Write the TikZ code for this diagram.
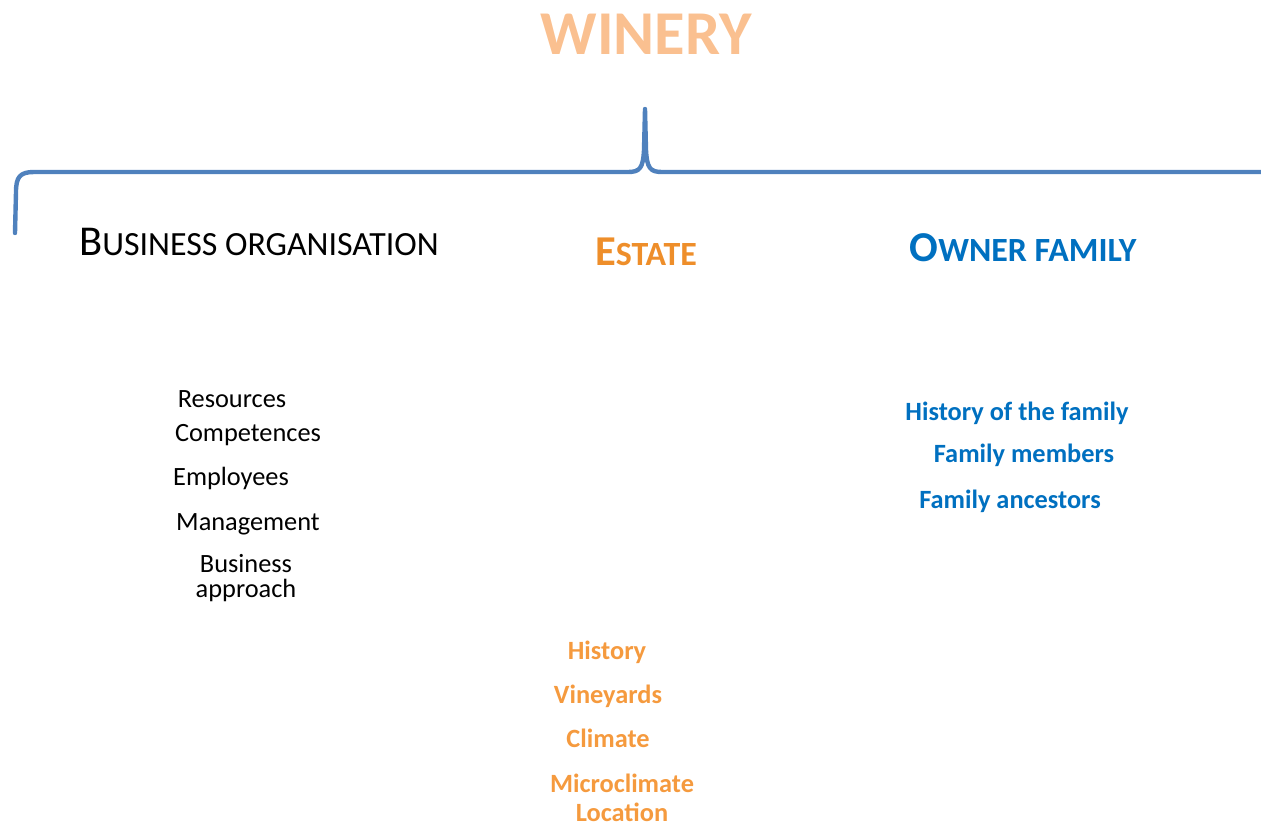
\documentclass[tikz,border=0pt]{standalone}
\usepackage{fontspec}
\setmainfont{Carlito}
\definecolor{winepeach}{HTML}{FAC090}
\definecolor{estateorange}{HTML}{EE8E2A}
\definecolor{itemorange}{HTML}{F59A3E}
\definecolor{familyblue}{HTML}{0070C0}
\definecolor{braceblue}{HTML}{4F81BD}
\tikzstyle{lbl}=[inner sep=0pt, anchor=base, align=center]
\tikzstyle{orgitem}=[lbl, text=black, font=\fontsize{15}{13.7}\selectfont]
\tikzstyle{estitem}=[lbl, text=itemorange, font=\fontsize{15}{16}\selectfont\bfseries]
\tikzstyle{famitem}=[lbl, text=familyblue, font=\fontsize{15}{18}\selectfont\bfseries]
\newcommand{\lbl}{\node[lbl]}
\newcommand{\headcaps}[2]{{\fontsize{24.2}{28}\selectfont #1}{\fontsize{19.3}{22}\selectfont #2}}

\begin{document}
\begin{tikzpicture}[x=0.02cm, y=-0.02cm
    ,brace/.style={draw=braceblue, line width=2.5pt, line cap=round, line join=round}
]
\useasboundingbox (0,0) rectangle (1261,828);
% title and brace
\lbl[text=winepeach, font=\fontsize{35.5}{40}\selectfont\bfseries] (winery) at (646,55) {WINERY};
\coordinate (lend) at (15,233);
\coordinate (peak) at (645,109);
\coordinate (rend) at (1270,172);
\draw[brace] (lend) -- (16,192) .. controls (16,177) and (20,172) .. (34,172)
    -- (628,172) .. controls (640,172) and (643,168) .. (644,150) -- (peak)
    -- (646,150) .. controls (647,168) and (650,172) .. (662,172) -- (rend);
% headings
\lbl[text=black] (business) at (259,255) {\headcaps{B}{USINESS ORGANISATION}};
\lbl[text=estateorange, font=\bfseries] (estate) at (646,265) {\headcaps{E}{STATE}};
\lbl[text=familyblue, font=\bfseries] (owner) at (1023,261) {\headcaps{O}{WNER FAMILY}};
% business organisation
\node[orgitem] (resources) at (232,407) {Resources};
\node[orgitem] (competences) at (248,441) {Competences};
\node[orgitem] (employees) at (231,485) {Employees};
\node[orgitem] (management) at (248,530) {Management};
\node[orgitem] (approach) at (246,597) {Business\\approach};
% estate
\node[estitem] (history) at (607,659) {History};
\node[estitem] (vineyards) at (608,703) {Vineyards};
\node[estitem] (climate) at (608,747) {Climate};
\node[estitem] (location) at (622,821) {Microclimate\\Location};
% owner family
\node[famitem] (famhistory) at (1017,420) {History of the family};
\node[famitem] (members) at (1024,462) {Family members};
\node[famitem] (ancestors) at (1010,508) {Family ancestors};
\end{tikzpicture}
\end{document}
